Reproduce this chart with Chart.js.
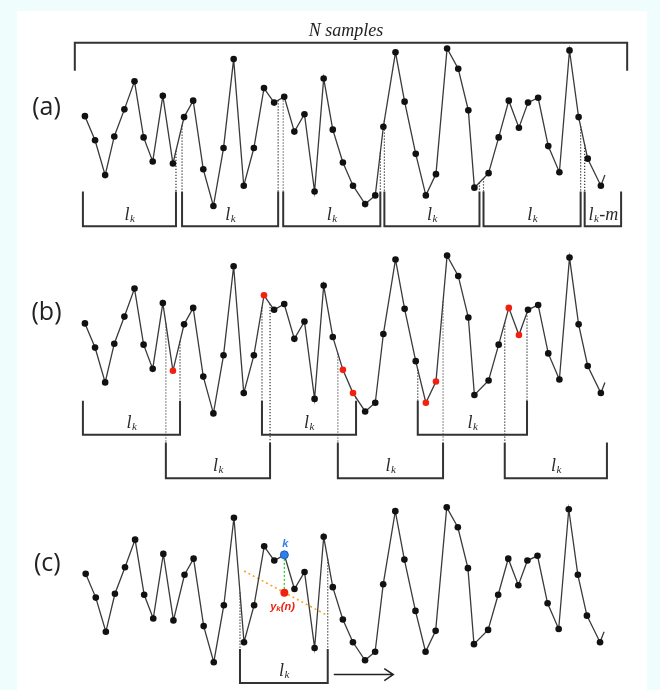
<!DOCTYPE html>
<html lang="en">
<head>
<meta charset="UTF-8">
<title>Janelas deslizantes</title>
<script src="https://cdn.jsdelivr.net/npm/chart.js"></script>
<style>
    body { margin: 0; background: #effdfd; }
    .folha { position: absolute; left: 17px; top: 11px; width: 630px; height: 679px; background: #fff; }
    .painel { position: absolute; left: 0; width: 660px; }
</style>
</head>
<body>
<div class="folha"></div>
<div class="painel" style="top:0;height:240px"><canvas id="grafA" width="660" height="240"></canvas></div>
<div class="painel" style="top:240px;height:250px"><canvas id="grafB" width="660" height="250"></canvas></div>
<div class="painel" style="top:490px;height:200px"><canvas id="grafC" width="660" height="200"></canvas></div>
<script>
    // sinal (mesmo nas tres linhas)
    var tempos = [0, 1.0, 2.0, 2.9, 3.9, 4.9, 5.8, 6.7, 7.7, 8.7, 9.8, 10.7, 11.7, 12.7, 13.7, 14.7, 15.7, 16.7, 17.7, 18.7,
        19.7, 20.7, 21.7, 22.7, 23.6, 24.5, 25.5, 26.5, 27.7, 28.7, 29.5, 30.7, 31.6, 32.7, 33.7, 34.7, 35.8, 36.9, 37.9, 38.5,
        39.9, 40.9, 41.9, 42.9, 43.8, 44.8, 45.8, 46.9, 47.9, 48.8, 49.7, 51.0];
    var amostras = [9.6, 7.1, 3.5, 7.5, 10.3, 13.2, 7.4, 4.9, 11.7, 4.7, 9.5, 11.2, 4.1, 0.3, 6.3, 15.5, 2.4, 6.3, 12.5, 11.0,
        11.6, 8.0, 9.8, 1.8, 13.5, 8.2, 4.8, 2.4, 0.5, 1.4, 8.5, 16.2, 11.1, 5.7, 1.4, 3.6, 16.6, 14.5, 10.2, 2.2,
        3.7, 7.4, 11.2, 8.4, 11.0, 11.5, 6.5, 3.8, 16.4, 9.5, 5.2, 2.4];
    var caudaT = 51.4;
    var caudaV = 3.5;

    // janelas
    var totalN = [-1.0, 53.6];
    var janelasA = [[-0.2, 9.0], [9.6, 19.1], [19.6, 29.2], [29.6, 39.0], [39.4, 49.0], [49.4, 53.0]];
    var rotulosA = ['', '', '', '', '', '-m'];
    var janelasBsup = [[-0.2, 9.4], [17.5, 26.8], [32.9, 43.7]];
    var janelasBinf = [[8.0, 18.3], [25.0, 35.4], [41.5, 51.6]];
    var destaquesB = [9, 18, 26, 27, 34, 35, 42, 43];
    var janelaC = [15.3, 24.0];
    var setaC = [24.6, 30.5];

    // tendencia local e ponto k (painel c)
    var tendenciaT = [15.7, 24.0];
    var tendenciaV = [9.9, 5.2];
    var pontoK = { x: 19.7, y: 11.6 };
    var pontoY = { x: 19.7, y: 7.6 };

    var COR_LINHA = '#3a3a3a';
    var COR_COLCHETE = '#333';
    var VERMELHO = '#f2200f';

    function sinalEm(t) {
        for (var i = 0; i < tempos.length - 1; i++) {
            if (t >= tempos[i] && t <= tempos[i + 1]) {
                return amostras[i] + (amostras[i + 1] - amostras[i]) * (t - tempos[i]) / (tempos[i + 1] - tempos[i]);
            }
        }
        return amostras[amostras.length - 1];
    }

    function dadosSinal() {
        var d = tempos.map(function (t, i) { return { x: t, y: amostras[i] }; });
        d.push({ x: caudaT, y: caudaV });
        return d;
    }

    function datasetSinal(corPonto) {
        return {
            data: dadosSinal(),
            borderColor: COR_LINHA,
            borderWidth: 1.3,
            pointRadius: function (c) { return c.dataIndex === tempos.length ? 0 : 3.3; },
            pointBackgroundColor: corPonto,
            pointBorderWidth: 0,
            tension: 0
        };
    }

    function opcoes(yMin, yMax) {
        return {
            responsive: false,
            animation: false,
            layout: { padding: 0 },
            plugins: { legend: { display: false }, tooltip: { enabled: false } },
            scales: {
                x: { type: 'linear', min: -8.0, max: 56.45, display: false },
                y: { min: yMin, max: yMax, display: false }
            }
        };
    }

    function colchete(ch, t0, t1, vTopo, vBase) {
        var ctx = ch.ctx, xs = ch.scales.x, ys = ch.scales.y;
        var x0 = xs.getPixelForValue(t0), x1 = xs.getPixelForValue(t1);
        var yT = ys.getPixelForValue(vTopo), yB = ys.getPixelForValue(vBase);
        ctx.save();
        ctx.strokeStyle = COR_COLCHETE;
        ctx.lineWidth = 2;
        ctx.beginPath();
        ctx.moveTo(x0, yT); ctx.lineTo(x0, yB); ctx.lineTo(x1, yB); ctx.lineTo(x1, yT);
        ctx.stroke();
        ctx.restore();
    }

    function pontilhado(ch, t, vAte) {
        var ctx = ch.ctx, xs = ch.scales.x, ys = ch.scales.y;
        var x = xs.getPixelForValue(t);
        ctx.save();
        ctx.strokeStyle = '#333';
        ctx.lineWidth = 1.2;
        ctx.setLineDash([1.2, 1.8]);
        ctx.beginPath();
        ctx.moveTo(x, ys.getPixelForValue(sinalEm(t)));
        ctx.lineTo(x, ys.getPixelForValue(vAte));
        ctx.stroke();
        ctx.restore();
    }

    function rotuloL(ch, t, v, extra) {
        var ctx = ch.ctx;
        var x = ch.scales.x.getPixelForValue(t), y = ch.scales.y.getPixelForValue(v);
        ctx.save();
        ctx.fillStyle = '#2a2a2a';
        ctx.textBaseline = 'alphabetic';
        ctx.textAlign = 'left';
        ctx.font = 'italic 18px "Liberation Serif"';
        var wl = ctx.measureText('l').width;
        var we = extra ? ctx.measureText(extra).width : 0;
        ctx.font = 'italic 11px "Liberation Serif"';
        var wk = ctx.measureText('k').width;
        var x0 = x - (wl + wk + we) / 2;
        ctx.font = 'italic 18px "Liberation Serif"';
        ctx.fillText('l', x0, y);
        if (extra) ctx.fillText(extra, x0 + wl + wk + 1, y);
        ctx.font = 'italic 11px "Liberation Serif"';
        ctx.fillText('k', x0 + wl + 0.5, y + 2);
        ctx.restore();
    }

    function rotuloPainel(ch, texto, v) {
        var ctx = ch.ctx;
        ctx.save();
        ctx.fillStyle = '#222';
        ctx.font = '25px "Open Sans"';
        ctx.textAlign = 'center';
        ctx.textBaseline = 'middle';
        ctx.fillText(texto, ch.scales.x.getPixelForValue(-3.8), ch.scales.y.getPixelForValue(v));
        ctx.restore();
    }

    // painel (a)
    new Chart(document.getElementById('grafA'), {
        type: 'line',
        data: { datasets: [datasetSinal('#111')] },
        options: opcoes(-2.8, 21.2),
        plugins: [{
            id: 'janelasA',
            beforeDatasetsDraw: function (ch) {
                janelasA.forEach(function (j, i) {
                    if (i > 0) pontilhado(ch, j[0], 1.8);
                    if (i < janelasA.length - 1) pontilhado(ch, j[1], 1.8);
                });
            },
            afterDatasetsDraw: function (ch) {
                var ctx = ch.ctx, xs = ch.scales.x, ys = ch.scales.y;
                // colchete de N amostras
                ctx.save();
                ctx.strokeStyle = COR_COLCHETE;
                ctx.lineWidth = 2;
                ctx.beginPath();
                ctx.moveTo(xs.getPixelForValue(totalN[0]), ys.getPixelForValue(14.3));
                ctx.lineTo(xs.getPixelForValue(totalN[0]), ys.getPixelForValue(17.2));
                ctx.lineTo(xs.getPixelForValue(totalN[1]), ys.getPixelForValue(17.2));
                ctx.lineTo(xs.getPixelForValue(totalN[1]), ys.getPixelForValue(14.3));
                ctx.stroke();
                ctx.fillStyle = '#222';
                ctx.font = 'italic 18px "Liberation Serif"';
                ctx.textAlign = 'center';
                ctx.textBaseline = 'middle';
                ctx.fillText('N samples', xs.getPixelForValue(25.8), ys.getPixelForValue(18.4));
                ctx.restore();
                janelasA.forEach(function (j, i) {
                    colchete(ch, j[0], j[1], 1.8, -1.8);
                    rotuloL(ch, (j[0] + j[1]) / 2, -1.1, rotulosA[i]);
                });
                rotuloPainel(ch, '(a)', 10.5);
            }
        }]
    });

    // painel (b)
    new Chart(document.getElementById('grafB'), {
        type: 'line',
        data: {
            datasets: [datasetSinal(function (c) {
                return destaquesB.indexOf(c.dataIndex) >= 0 ? VERMELHO : '#111';
            })]
        },
        options: opcoes(-7.2, 17.8),
        plugins: [{
            id: 'janelasB',
            beforeDatasetsDraw: function (ch) {
                janelasBsup.forEach(function (j, i) {
                    if (i > 0) pontilhado(ch, j[0], 1.6);
                    pontilhado(ch, j[1], 1.6);
                });
                janelasBinf.forEach(function (j, i) {
                    pontilhado(ch, j[0], -2.7);
                    if (i < janelasBinf.length - 1) pontilhado(ch, j[1], -2.7);
                });
            },
            afterDatasetsDraw: function (ch) {
                janelasBsup.forEach(function (j) {
                    colchete(ch, j[0], j[1], 1.6, -1.9);
                    rotuloL(ch, (j[0] + j[1]) / 2, -1.2);
                });
                janelasBinf.forEach(function (j) {
                    colchete(ch, j[0], j[1], -2.7, -6.4);
                    rotuloL(ch, (j[0] + j[1]) / 2, -5.7);
                });
                rotuloPainel(ch, '(b)', 10.7);
            }
        }]
    });

    // painel (c)
    new Chart(document.getElementById('grafC'), {
        type: 'line',
        data: {
            datasets: [
                { data: [pontoK], showLine: false, pointRadius: 4, pointBackgroundColor: '#2f7fe6', pointBorderColor: '#1f5fbf', pointBorderWidth: 1 },
                { data: [pontoY], showLine: false, pointRadius: 4, pointBackgroundColor: VERMELHO, pointBorderWidth: 0 },
                datasetSinal('#111'),
                { data: [pontoK, pontoY], borderColor: '#33cc33', borderWidth: 1.3, borderDash: [2, 2], pointRadius: 0 },
                {
                    data: tendenciaT.map(function (t, i) { return { x: t, y: tendenciaV[i] }; }),
                    borderColor: '#f5a623', borderWidth: 1.6, borderDash: [2, 3], pointRadius: 0
                }
            ]
        },
        options: opcoes(-2.1, 17.9),
        plugins: [{
            id: 'janelaC',
            beforeDatasetsDraw: function (ch) {
                pontilhado(ch, janelaC[0], 1.7);
                pontilhado(ch, janelaC[1], 1.7);
            },
            afterDatasetsDraw: function (ch) {
                var ctx = ch.ctx, xs = ch.scales.x, ys = ch.scales.y;
                colchete(ch, janelaC[0], janelaC[1], 1.7, -1.9);
                rotuloL(ch, (janelaC[0] + janelaC[1]) / 2, -1.1);
                // seta de deslocamento
                var xa = xs.getPixelForValue(setaC[0]), xb = xs.getPixelForValue(setaC[1]), ya = ys.getPixelForValue(-1.0);
                ctx.save();
                ctx.strokeStyle = '#222';
                ctx.lineWidth = 1.5;
                ctx.beginPath();
                ctx.moveTo(xa, ya); ctx.lineTo(xb, ya);
                ctx.moveTo(xb - 9, ya - 6); ctx.lineTo(xb, ya); ctx.lineTo(xb - 9, ya + 6);
                ctx.stroke();
                // rotulos k e y_k(n)
                ctx.textAlign = 'center';
                ctx.textBaseline = 'middle';
                ctx.fillStyle = '#2f7fe6';
                ctx.font = 'italic bold 11px "Liberation Sans"';
                ctx.fillText('k', xs.getPixelForValue(19.8), ys.getPixelForValue(12.7));
                ctx.fillStyle = VERMELHO;
                ctx.textAlign = 'left';
                var xy = xs.getPixelForValue(18.3), yy = ys.getPixelForValue(6.1);
                ctx.fillText('y', xy, yy);
                var w = ctx.measureText('y').width;
                ctx.font = 'italic bold 8px "Liberation Sans"';
                ctx.fillText('k', xy + w, yy + 2);
                var w2 = ctx.measureText('k').width;
                ctx.font = 'italic bold 11px "Liberation Sans"';
                ctx.fillText('(n)', xy + w + w2, yy);
                ctx.restore();
                rotuloPainel(ch, '(c)', 10.7);
            }
        }]
    });
</script>
</body>
</html>
